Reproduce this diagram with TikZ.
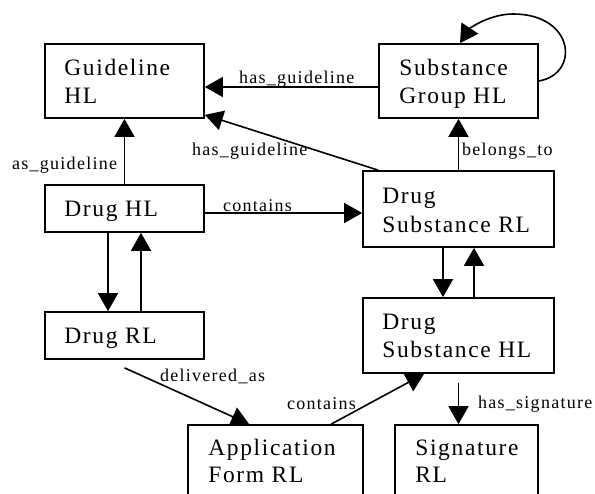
\documentclass[tikz,border=0pt]{standalone}
\usepackage{fontspec}
\setmainfont{Liberation Serif}
\newfontfamily\boxfont[LetterSpace=7]{Liberation Serif}
\newfontfamily\labfont[LetterSpace=7]{Liberation Serif}
\usetikzlibrary{arrows.meta,calc}
\begin{document}
\begin{tikzpicture}[x=1pt,y=-1pt,
  ent/.style={draw,line width=1.7pt,inner sep=0pt,rectangle},
  txt/.style={anchor=base west,inner sep=0pt,font=\boxfont\fontsize{23.5}{28}\selectfont},
  lab/.style={anchor=base west,inner sep=0pt,font=\labfont\fontsize{18}{22}\selectfont},
  conn/.style={line width=1.6pt,-{Triangle[length=18pt,width=20pt]}}]
\useasboundingbox[fill=white] (0,0) rectangle (595,494);
% boxes
\node[ent,minimum width=159pt,minimum height=74pt] (g) at (124.5,81) {};
\node[ent,minimum width=159pt,minimum height=74pt] (sg) at (458.5,81) {};
\node[ent,minimum width=159pt,minimum height=47pt] (dh) at (124.5,208.5) {};
\node[ent,minimum width=191pt,minimum height=76pt] (dsr) at (458.5,209) {};
\node[ent,minimum width=159pt,minimum height=47pt] (dr) at (124.5,335.5) {};
\node[ent,minimum width=191pt,minimum height=75pt] (dsh) at (458.5,335.5) {};
\node[ent,minimum width=175pt,minimum height=75pt] (app) at (275.5,462.5) {};
\node[ent,minimum width=143pt,minimum height=75pt] (sig) at (466.5,462.5) {};
% box texts
\node[txt] (g1) at ($(g.north west)+(20,32)$) {Guideline};
\node[txt] (g2) at ($(g.north west)+(20,60)$) {HL};
\node[txt] (sg1) at ($(sg.north west)+(21,32)$) {Substance};
\node[txt] (sg2) at ($(sg.north west)+(21,60)$) {Group HL};
\node[txt] (dh1) at ($(dh.north west)+(20,32)$) {Drug HL};
\node[txt] (dsr1) at ($(dsr.north west)+(20,33.5)$) {Drug};
\node[txt] (dsr2) at ($(dsr.north west)+(20,62)$) {Substance RL};
\node[txt] (dr1) at ($(dr.north west)+(20,32)$) {Drug RL};
\node[txt] (dsh1) at ($(dsh.north west)+(20,32)$) {Drug};
\node[txt] (dsh2) at ($(dsh.north west)+(20,60)$) {Substance HL};
\node[txt] (app1) at ($(app.north west)+(21,31.5)$) {Application};
\node[txt] (app2) at ($(app.north west)+(21,58.5)$) {Form RL};
\node[txt] (sig1) at ($(sig.north west)+(21,31)$) {Signature};
\node[txt] (sig2) at ($(sig.north west)+(21,58.5)$) {RL};
% connectors
\draw[conn] ($(sg.west)+(0,6)$) -- ($(g.east)+(0,6)$);
\draw[conn] (dh.north) -- (g.south);
\draw[conn] ($(dsr.north west)+(16,0)$) -- ($(g.south east)+(0,-4)$);
\draw[conn] (dsr.north) -- (sg.south);
\draw[conn] ($(dh.east)+(0,4.5)$) -- ($(dsr.west)+(0,4)$);
\draw[conn] ($(dh.south)+(-16.5,0)$) -- ($(dr.north)+(-16.5,0)$);
\draw[conn] ($(dr.north)+(16.5,0)$) -- ($(dh.south)+(16.5,0)$);
\draw[conn] ($(dsr.south)+(-15.5,0)$) -- ($(dsh.north)+(-15.5,0)$);
\draw[conn] ($(dsh.north)+(15.5,0)$) -- ($(dsr.south)+(15.5,0)$);
\coordinate (dvs) at ($(dr.south)+(0,8)$);
\draw[conn] (dvs) -- ($(app.north west)+(62,0)$);
\draw[conn] ($(app.north west)+(144,0)$) -- ($(dsh.south west)+(62,0)$);
\coordinate (sgs) at ($(dsh.south)+(0,9)$);
\draw[conn] (sgs) -- (sgs |- sig.north);
\draw[conn] (sg.east) .. controls (580,74) and (575,14) .. (513,14)
  .. controls (490,14) and (470,28) .. ($(sg.north)+(1.5,0)$);
% labels
\node[lab] (l1) at (239,84) {has\_guideline};
\node[lab] (l2) at (12,170) {as\_guideline};
\node[lab] (l3) at (192,155.5) {has\_guideline};
\node[lab] (l4) at (462,156) {belongs\_to};
\node[lab] (l5) at (223,211.5) {contains};
\node[lab] (l6) at (160,382) {delivered\_as};
\node[lab] (l7) at (287,410) {contains};
\node[lab] (l8) at (478,409) {has\_signature};
\end{tikzpicture}
\end{document}
